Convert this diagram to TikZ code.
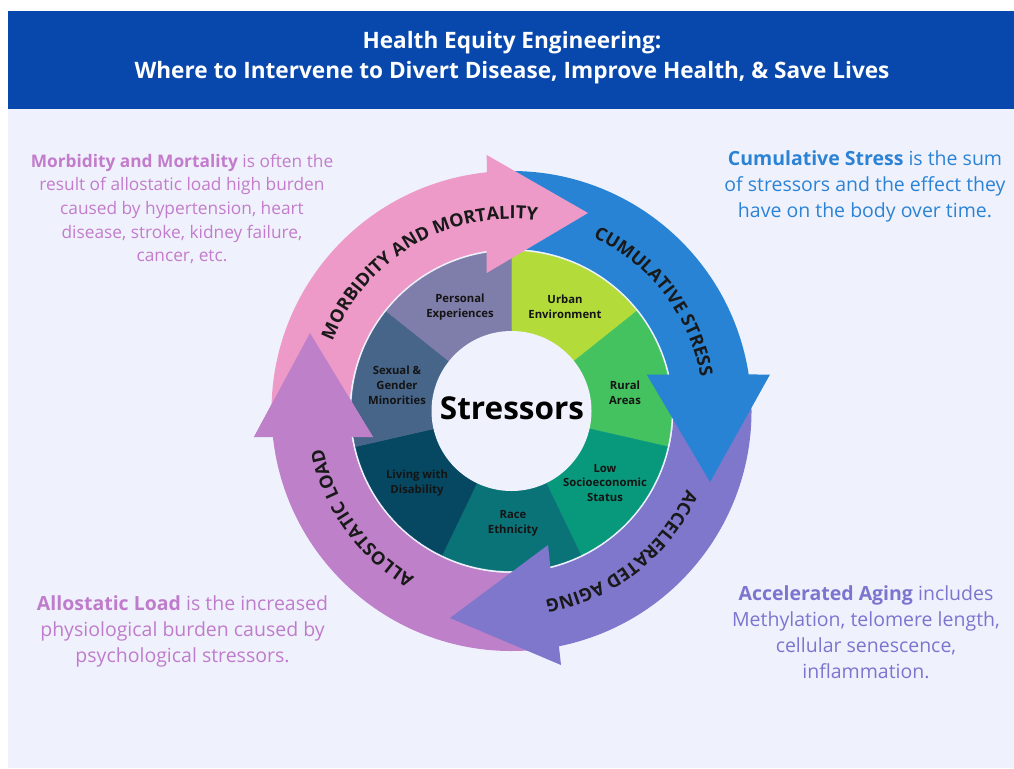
\documentclass[tikz,border=0pt]{standalone}
\usepackage{fontspec}
\setmainfont{Open Sans}
\usetikzlibrary{decorations.text}
\definecolor{bgc}{RGB}{239,242,252}
\definecolor{hdr}{RGB}{8,72,172}
\definecolor{pinkA}{RGB}{237,154,200}
\definecolor{blueA}{RGB}{40,131,212}
\definecolor{accA}{RGB}{126,119,204}
\definecolor{orcA}{RGB}{190,128,200}
\definecolor{segU}{RGB}{179,220,58}
\definecolor{segR}{RGB}{68,194,96}
\definecolor{segL}{RGB}{8,153,124}
\definecolor{segE}{RGB}{10,115,120}
\definecolor{segD}{RGB}{6,72,98}
\definecolor{segS}{RGB}{70,101,137}
\definecolor{segP}{RGB}{127,125,169}
\definecolor{txtPink}{RGB}{195,124,204}
\definecolor{txtBlue}{RGB}{44,131,214}
\definecolor{txtAcc}{RGB}{124,117,208}
\definecolor{txtOrc}{RGB}{192,124,204}
\begin{document}
\begin{tikzpicture}[x=1pt,y=1pt,
  seglabel/.style={font=\bfseries\fontsize{11.3}{14.8}\selectfont, align=center, text=black!92},
  para/.style={align=center, font=\fontsize{19.5}{26}\selectfont, inner sep=0pt},
  titletext/.style={font=\bfseries\fontsize{22.6}{22.6}\selectfont, text=white, inner sep=0pt}
]
\useasboundingbox (0,0) rectangle (1014,-768);
\fill[white] (0,0) rectangle (1014,-768);
\fill[bgc] (8,-109) rectangle (1014,-768);
\fill[hdr] (8,-11) rectangle (1014,-109);
\node[titletext] (t1) at (512,-43) {Health Equity Engineering:};
\node[titletext] (t2) at (512,-72.5) {Where to Intervene to Divert Disease, Improve Health, \& Save Lives};

% paragraphs
\node[para, text=txtPink, font=\fontsize{17.3}{23.6}\selectfont] (pm) at (182,-209)
 {\textbf{Morbidity and Mortality} is often the\\ result of allostatic load high burden\\ caused by hypertension, heart\\ disease, stroke, kidney failure,\\ cancer, etc.};
\node[para, text=txtBlue] (pc) at (865,-186.5)
 {\textbf{Cumulative Stress} is the sum\\ of stressors and the effect they\\ have on the body over time.};
\node[para, text=txtAcc] (pa) at (866,-632.5)
 {\textbf{Accelerated Aging} includes\\ Methylation, telomere length,\\ cellular senescence,\\ inflammation.};
\node[para, text=txtOrc] (pl) at (182.5,-631.5)
 {\textbf{Allostatic Load} is the increased\\ physiological burden caused by\\ psychological stressors.};

\begin{scope}[shift={(511.5,-411)}]
 % ring segments
 \foreach \c [count=\i] in {segU,segR,segL,segE,segD,segS,segP} {
   \pgfmathsetmacro\a{90-(\i-1)*360/7}
   \pgfmathsetmacro\b{\a-360/7}
   \filldraw[fill=\c,draw=\c,line width=0.4] (0,0) -- (\a:160) arc[start angle=\a,end angle=\b,radius=160] -- cycle;
 }
 \fill[bgc] (0,0) circle[radius=80];
 \node[font=\bfseries\fontsize{31.5}{31.5}\selectfont, text=black] (st) at (0.5,3) {Stressors};

 \node[seglabel] (sP) at (-51.5,104) {Personal\\Experiences};
 \node[seglabel] (sU) at (53.5,104) {Urban\\Environment};
 \node[seglabel] (sR) at (113.5,18) {Rural\\Areas};
 \node[seglabel] (sL) at (93.5,-72) {Low\\Socioeconomic\\Status};
 \node[seglabel] (sE) at (1.5,-112) {Race\\Ethnicity};
 \node[seglabel] (sD) at (-94.5,-72) {Living with\\Disability};
 \node[seglabel] (sS) at (-114.5,26) {Sexual \&\\Gender\\Minorities};

 % arrows
 \fill[orcA] (274:240) arc[start angle=274,end angle=186.2,radius=240] -- (-257.5,-26) -- (-201.5,78) -- (-138.5,-26) -- (189.2:162) arc[start angle=189.2,end angle=274,radius=162] -- cycle;
 \fill[accA] (5:240) arc[start angle=5,end angle=-78.6,radius=240] -- (49.5,-254) -- (-61.5,-207) -- (36.5,-134) -- (-76.07:162) arc[start angle=-76.07,end angle=5,radius=162] -- cycle;
 \fill[blueA] (90:240) arc[start angle=90,end angle=8.75,radius=240] -- (258.5,36.5) -- (198.5,-71) -- (135.2,36.5) -- (13.0:162) arc[start angle=13.0,end angle=90,radius=162] -- cycle;
 \fill[pinkA] (181:240) arc[start angle=181,end angle=95.9,radius=240] -- (-24.8,256) -- (76.5,198) -- (-24.8,138) -- (98.8:162) arc[start angle=98.8,end angle=181,radius=162] -- cycle;
 \fill[orcA] (-257.5,-26) -- (-201.5,78) -- (-138.5,-26) -- cycle;

 % arc labels
 \path[decorate,decoration={text along path,text align=center,text color=black!90,
   text={|\fontsize{18}{18}\selectfont\bfseries|MORBIDITY AND MORTALITY}}]
   (170:192) arc[start angle=170,end angle=71,radius=192];
 \path[decorate,decoration={text along path,text align=center,text color=black!90,
   text={|\fontsize{18}{18}\selectfont\bfseries|CUMULATIVE STRESS}}]
   (80:192) arc[start angle=80,end angle=-5,radius=192];
 \path[decorate,decoration={text along path,text align=center,text color=black!90,
   text={|\fontsize{18}{18}\selectfont\bfseries|ACCELERATED AGING}}]
   (-5:192) arc[start angle=-5,end angle=-99,radius=192];
 \path[decorate,decoration={text along path,text align=center,text color=black!90,
   text={|\fontsize{18}{18}\selectfont\bfseries|ALLOSTATIC LOAD}}]
   (260:192) arc[start angle=260,end angle=171,radius=192];
\end{scope}
\end{tikzpicture}
\end{document}
